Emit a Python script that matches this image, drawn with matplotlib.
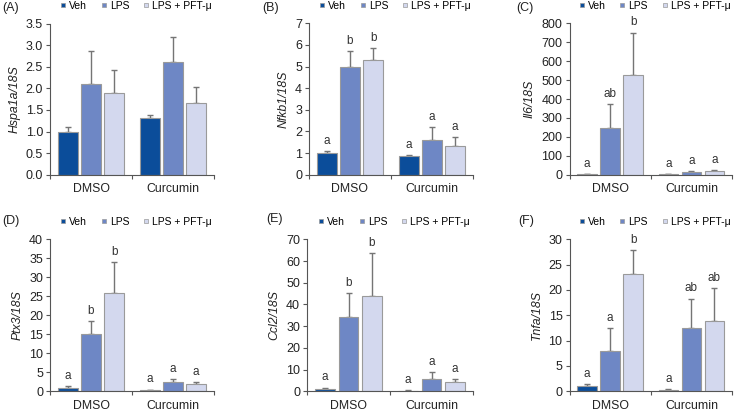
import matplotlib.pyplot as plt
from matplotlib.lines import Line2D
import numpy as np

plt.rcParams['font.family'] = ['Liberation Sans', 'DejaVu Sans']

groups = ['DMSO', 'Curcumin']
treatments = ['Veh', 'LPS', 'LPS + PFT-\u03bc']
colors = ['#0b4d9a', '#6e87c5', '#d3d8ee']

# mean values [DMSO(Veh, LPS, PFT), Curcumin(Veh, LPS, PFT)]
hspa1a = [1.0, 2.11, 1.89, 1.31, 2.61, 1.65]
hspa1a_err = [0.11, 0.75, 0.54, 0.07, 0.57, 0.37]
nfkb1 = [0.99, 4.96, 5.29, 0.86, 1.60, 1.34]
nfkb1_err = [0.12, 0.76, 0.55, 0.06, 0.59, 0.39]
il6 = [3, 245, 525, 2, 14, 20]
il6_err = [2, 127, 226, 1, 5, 6]
ptx3 = [0.96, 15.1, 25.8, 0.3, 2.4, 1.85]
ptx3_err = [0.45, 3.3, 8.3, 0.15, 0.9, 0.65]
ccl2 = [0.9, 34.4, 43.8, 0.2, 5.7, 4.1]
ccl2_err = [0.8, 10.7, 19.8, 0.2, 3.05, 1.6]
tnfa = [1.0, 8.0, 23.1, 0.26, 12.4, 13.9]
tnfa_err = [0.5, 4.4, 4.8, 0.24, 5.9, 6.5]

letters_b = ['a', 'b', 'b', 'a', 'a', 'a']
letters_c = ['a', 'ab', 'b', 'a', 'a', 'a']
letters_d = ['a', 'b', 'b', 'a', 'a', 'a']
letters_e = ['a', 'b', 'b', 'a', 'a', 'a']
letters_f = ['a', 'a', 'b', 'a', 'ab', 'ab']

# (label, ylabel, values, errors, letters, ymax, yticks, fmt, axes box in px, label pos in px)
panels = [
    ('(A)', 'Hspa1a/18S', hspa1a, hspa1a_err, None, 3.5, np.arange(0, 3.6, 0.5), '{:.1f}',
     (50, 214, 23.5, 174.7), (2, 8)),
    ('(B)', 'Nfkb1/18S', nfkb1, nfkb1_err, letters_b, 7, np.arange(0, 8, 1), '{:.0f}',
     (309, 473, 23.3, 174.7), (262, 8)),
    ('(C)', 'Il6/18S', il6, il6_err, letters_c, 800, np.arange(0, 801, 100), '{:.0f}',
     (569.5, 732, 23.3, 174.7), (516, 8)),
    ('(D)', 'Ptx3/18S', ptx3, ptx3_err, letters_d, 40, np.arange(0, 41, 5), '{:.0f}',
     (50, 214, 239.3, 391.3), (2, 221)),
    ('(E)', 'Ccl2/18S', ccl2, ccl2_err, letters_e, 70, np.arange(0, 71, 10), '{:.0f}',
     (307, 473, 239.3, 391.3), (266, 219)),
    ('(F)', 'Tnfa/18S', tnfa, tnfa_err, letters_f, 30, np.arange(0, 31, 5), '{:.0f}',
     (569.5, 732, 239.3, 391.3), (518, 221)),
]

W, H = 734, 412
fig = plt.figure(figsize=(W / 100, H / 100), dpi=100)

offsets = np.array([-0.283, 0, 0.283])
width = 0.24

for label, ylab, vals, errs, letters, ymax, yticks, fmt, (l, r, t, b), (lx, ly) in panels:
    ax = fig.add_axes([l / W, 1 - b / H, (r - l) / W, (b - t) / H])
    vals = np.array(vals)
    errs = np.array(errs)
    for gi in range(2):
        for ti in range(3):
            k = gi * 3 + ti
            x = gi + 0.5 + offsets[ti]
            ax.bar(x, vals[k], width, color=colors[ti], edgecolor='#9a9a9a', linewidth=0.8, zorder=2)
            ax.errorbar(x, vals[k], yerr=[[0], [errs[k]]], color='#757575', capsize=2.5,
                        elinewidth=1.0, capthick=1.0, zorder=1)
            if letters is not None:
                ax.annotate(letters[k], (x, vals[k] + errs[k]), xytext=(0, 3), textcoords='offset points',
                            ha='center', va='bottom', fontsize=8.5, color='#333333')
    ax.set_xlim(0, 2)
    ax.set_ylim(0, ymax)
    ax.set_yticks(yticks)
    ax.set_yticklabels([fmt.format(v) for v in yticks])
    ax.set_xticks([0, 1, 2])
    ax.set_xticklabels([])
    ax.set_xticks([0.5, 1.5], minor=True)
    ax.set_xticklabels(groups, minor=True)
    ax.tick_params(axis='x', which='minor', length=0, labelsize=8.8, pad=6, colors='#222222')
    ax.tick_params(axis='x', which='major', length=3, color='#555555')
    ax.tick_params(axis='y', length=3, labelsize=9, pad=2, colors='#222222', color='#555555')
    for s in ['top', 'right']:
        ax.spines[s].set_visible(False)
    for s in ['left', 'bottom']:
        ax.spines[s].set_color('#555555')
        ax.spines[s].set_linewidth(0.8)
    ax.set_ylabel(ylab, fontsize=8.8, style='italic', labelpad=4, color='#222222')
    fig.text(lx / W, 1 - ly / H, label, fontsize=9, va='center', ha='left', color='#222222')
    handles = [Line2D([], [], marker='s', linestyle='none', markersize=3.5, markerfacecolor=c,
                      markeredgecolor='#9a9a9a', markeredgewidth=0.5) for c in colors]
    ax.legend(handles, treatments, loc='center', bbox_to_anchor=(0.52, 1 + 17.5 / (b - t)), ncol=3,
              frameon=False, handletextpad=0.2, columnspacing=1.2, handlelength=0.8,
              borderaxespad=0, prop={'family': 'Liberation Sans', 'size': 7.5})

fig.savefig('out.png', dpi=100)
